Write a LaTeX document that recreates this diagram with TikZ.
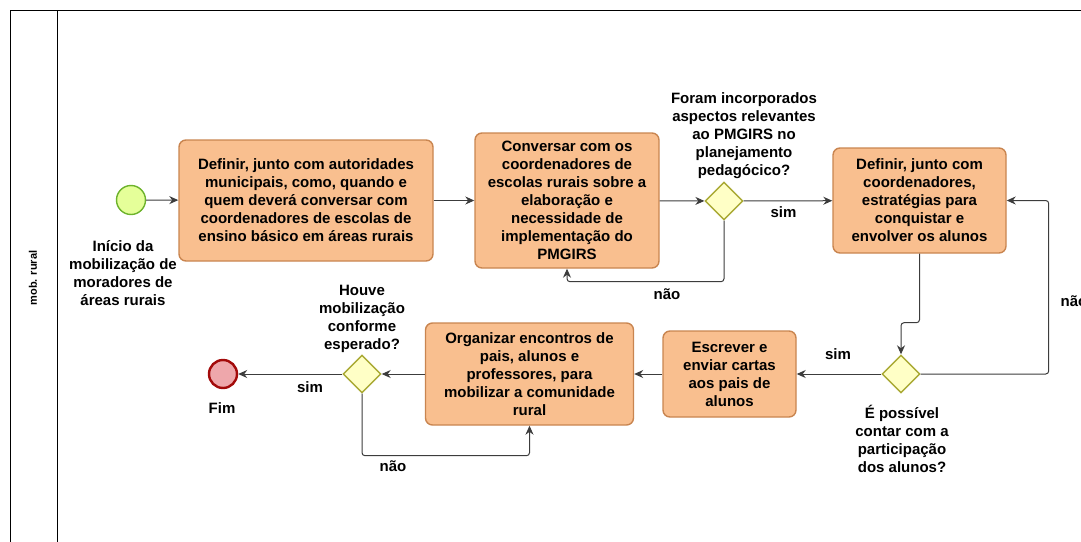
\documentclass[tikz,border=0pt]{standalone}
\usepackage{fontspec}
\setmainfont{Liberation Sans}
\usetikzlibrary{shapes.geometric,arrows.meta}
\definecolor{taskfill}{HTML}{F9BF8F}
\definecolor{taskdraw}{HTML}{C98550}
\definecolor{gatefill}{HTML}{FFFFC6}
\definecolor{gatedraw}{HTML}{A9A934}
\definecolor{startfill}{HTML}{E5FF99}
\definecolor{startdraw}{HTML}{6DB32C}
\definecolor{endfill}{HTML}{EEA7AB}
\definecolor{enddraw}{HTML}{A30A0A}
\definecolor{flowline}{HTML}{3C3C3C}
\begin{document}
\begin{tikzpicture}[x=1pt, y=-1pt, >={Stealth[length=9pt,width=8pt]},
  every node/.style={font=\fontsize{15}{18}\selectfont\bfseries, align=center},
  task/.style={draw=taskdraw, fill=taskfill, rounded corners=7pt, line width=1.4pt, inner sep=0pt},
  gate/.style={diamond, draw=gatedraw, fill=gatefill, line width=1.4pt, minimum size=38pt, inner sep=0pt},
  flow/.style={->, draw=flowline, line width=1pt, rounded corners=3pt},
  lbl/.style={inner sep=0pt}]
  \useasboundingbox (0,0) rectangle (1081,541);
  \clip (0,0) rectangle (1081,541);
  \draw[line width=0.9pt] (10,10) rectangle (1100,560);
  \draw[line width=0.9pt] (57,10) -- (57,560);
  \node[rotate=90, font=\fontsize{11}{12}\selectfont\bfseries] (lane) at (33,278) {mob. rural};

  \node[circle, draw=startdraw, fill=startfill, line width=1.4pt, minimum size=29pt, inner sep=0pt] (start) at (131,200) {};
  \node[lbl] (lstart) at (123,273) {Início da\\mobilização de\\moradores de\\áreas rurais};
  \node[task, minimum width=254pt, minimum height=121pt] (t1) at (306,200.5) {Definir, junto com autoridades\\municipais, como, quando e\\quem deverá conversar com\\coordenadores de escolas de\\ensino básico em áreas rurais};
  \node[task, minimum width=184pt, minimum height=135pt] (t2) at (567,200.5) {Conversar com os\\coordenadores de\\escolas rurais sobre a\\elaboração e\\necessidade de\\implementação do\\PMGIRS};
  \node[gate] (gw1) at (724,201) {};
  \node[lbl] (lgw1) at (744,136) {Foram incorporados\\aspectos relevantes\\ao PMGIRS no\\planejamento\\pedagócico?};
  \node[task, minimum width=173pt, minimum height=105pt] (t3) at (919.5,200.5) {Definir, junto com\\coordenadores,\\estratégias para\\conquistar e\\envolver os alunos};
  \node[gate] (gw2) at (901,374) {};
  \node[lbl] (lgw2) at (902,439) {É possível\\contar com a\\participação\\dos alunos?};
  \node[task, minimum width=133pt, minimum height=86pt] (t4) at (729.5,374) {Escrever e\\enviar cartas\\aos pais de\\alunos};
  \node[task, minimum width=208pt, minimum height=102pt] (t5) at (529.5,374) {Organizar encontros de\\pais, alunos e\\professores, para\\mobilizar a comunidade\\rural};
  \node[gate] (gw3) at (362,374) {};
  \node[lbl] (lgw3) at (362,318.5) {Houve\\mobilização\\conforme\\esperado?};
  \node[circle, draw=enddraw, fill=endfill, line width=2.4pt, minimum size=28pt, inner sep=0pt] (fim) at (223,374) {};
  \node[lbl] (lfim) at (222,408) {Fim};

  \draw[flow] (start) -- (t1);
  \draw[flow] (t1) -- (t2);
  \draw[flow] (t2) -- (gw1);
  \draw[flow] (gw1) -- (t3) node[lbl, pos=0.45, below=5pt] (s1) {sim};
  \draw[flow] (gw1.south) -- ++(0,61) -| (t2.south);
  \node[lbl] (n1) at (667,294) {não};
  \draw[flow] (t3.south) -- ++(0,69) -| (gw2.north);
  \draw[flow] (gw2.east) -- ++(128,0) |- (t3.east);
  \node[lbl] (n2) at (1074,301) {não};
  \draw[flow] (gw2) -- (t4);
  \node[lbl] (s2) at (838,354) {sim};
  \draw[flow] (t4) -- (t5);
  \draw[flow] (t5) -- (gw3);
  \draw[flow] (gw3) -- (fim);
  \node[lbl] (s3) at (310,387) {sim};
  \draw[flow] (gw3.south) -- ++(0,62) -| (t5.south);
  \node[lbl] (n3) at (393,466) {não};
\end{tikzpicture}
\end{document}
